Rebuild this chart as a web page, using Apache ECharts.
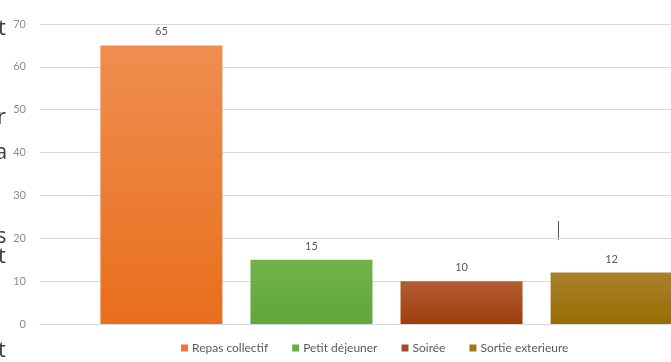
<!DOCTYPE html>
<html>
<head>
<meta charset="utf-8">
<script src="https://cdn.jsdelivr.net/npm/echarts@6/dist/echarts.min.js"></script>
<style>
  html, body { margin: 0; padding: 0; background: #fff; }
  #chart { width: 671px; height: 362px; }
</style>
</head>
<body>
<div id="chart"></div>
<script>
// Activités : nombre de participants par type d'activité
const seriesNames = ['Repas collectif', 'Petit déjeuner', 'Soirée', 'Sortie exterieure'];
const seriesValues = [65, 15, 10, 12];
const yTicks = [0, 10, 20, 30, 40, 50, 60, 70];

// Top / bottom gradient colours for each bar
const gradients = [
  ['#F08D50', '#E86F1C'],
  ['#73B24B', '#61A63A'],
  ['#B45D35', '#9D3E09'],
  ['#A8812F', '#996E02']
];
const legendColors = ['#EC7A33', '#6BAE45', '#A84A20', '#A07818'];

const chart = echarts.init(document.getElementById('chart'));

const series = seriesNames.map((name, i) => ({
  name: name,
  type: 'bar',
  data: [seriesValues[i]],
  barWidth: 122,
  barGap: '23%',
  itemStyle: {
    color: new echarts.graphic.LinearGradient(0, 0, 0, 1, [
      { offset: 0, color: gradients[i][0] },
      { offset: 1, color: gradients[i][1] }
    ])
  },
  label: {
    show: true,
    position: 'top',
    distance: 8,
    color: '#595959',
    fontSize: 11,
    fontFamily: 'Lato'
  }
}));

// Legend symbols use flat colours
const legendData = seriesNames.map((name, i) => ({
  name: name,
  itemStyle: { color: legendColors[i] }
}));

chart.setOption({
  backgroundColor: '#ffffff',
  animation: false,
  textStyle: { fontFamily: 'Lato' },
  // plot area runs past the right edge of the canvas
  grid: { left: 40, width: 693, top: 24, height: 300, containLabel: false, outerBoundsMode: 'none' },
  legend: {
    data: legendData,
    left: 176,
    bottom: 3,
    icon: 'rect',
    itemWidth: 7,
    itemHeight: 7,
    itemGap: 24,
    textStyle: { color: '#595959', fontSize: 12, fontFamily: 'Lato', padding: [0, 0, 0, -1] }
  },
  xAxis: {
    type: 'category',
    data: [''],
    axisLine: { show: true, lineStyle: { color: '#d9d9d9' } },
    axisTick: { show: false },
    axisLabel: { show: false }
  },
  yAxis: {
    type: 'value',
    min: yTicks[0],
    max: yTicks[yTicks.length - 1],
    interval: 10,
    axisLine: { show: false },
    axisTick: { show: false },
    axisLabel: { color: '#8c8c8c', fontSize: 11, margin: 14 },
    splitLine: { lineStyle: { color: '#d9d9d9', width: 1 } }
  },
  series: series,
  graphic: [
    // fragments of surrounding page text at the left edge
    { type: 'text', left: -2, top: 18, style: { text: 't', fontSize: 22, fill: '#404040', fontFamily: 'Open Sans' } },
    { type: 'text', left: -3, top: 107, style: { text: 'r', fontSize: 22, fill: '#404040', fontFamily: 'Open Sans' } },
    { type: 'text', left: -5, top: 142, style: { text: 'a', fontSize: 22, fill: '#404040', fontFamily: 'Open Sans' } },
    { type: 'text', left: -4, top: 226, style: { text: 's', fontSize: 22, fill: '#404040', fontFamily: 'Open Sans' } },
    { type: 'text', left: -2, top: 246, style: { text: 't', fontSize: 22, fill: '#404040', fontFamily: 'Open Sans' } },
    { type: 'text', left: -2, top: 340, style: { text: 't', fontSize: 22, fill: '#404040', fontFamily: 'Open Sans' } },
    // text cursor mark
    { type: 'line', shape: { x1: 558.5, y1: 221, x2: 558.5, y2: 240 }, style: { stroke: '#555', lineWidth: 1 } }
  ]
});
</script>
</body>
</html>
